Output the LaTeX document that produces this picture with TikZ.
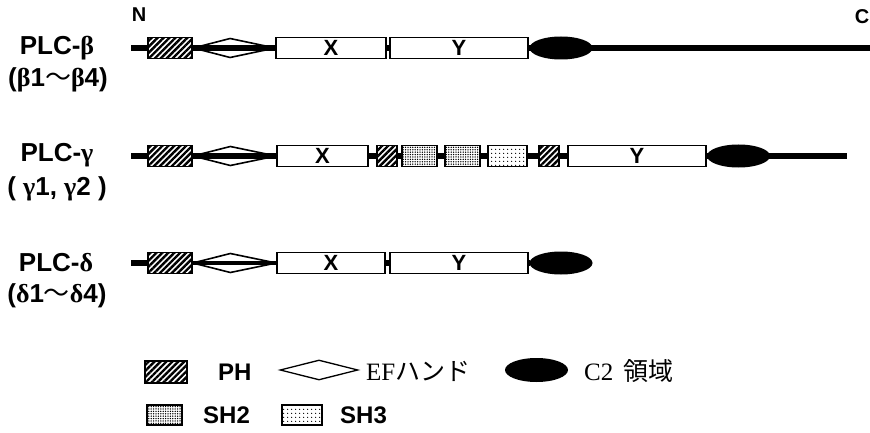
\documentclass[tikz,border=0pt]{standalone}
\usepackage{fontspec}
\setmainfont{Liberation Sans}
\newfontfamily\grk{Liberation Serif}
\newfontfamily\jp{Noto Sans CJK JP}
\usetikzlibrary{shapes.geometric,patterns.meta,calc}
\tikzset{
  backbone/.style={line width=5.5pt},
  dom/.style={draw, line width=1.7pt, fill=white, inner sep=0pt, minimum height=21pt,
    font=\bfseries\fontsize{22}{22}\selectfont},
  phdom/.style={draw, line width=1.7pt, inner sep=0pt, minimum height=21pt,
    preaction={fill=white}, pattern={Lines[angle=45,distance=4.2pt,line width=2.4pt]}},
  shtwo/.style={draw, line width=1.7pt, inner sep=0pt, minimum height=21pt,
    preaction={fill=white}, pattern={Dots[distance=2.4pt,radius=0.75pt]}},
  shthree/.style={draw, line width=1.7pt, inner sep=0pt, minimum height=21pt,
    preaction={fill=white}, pattern={Dots[distance=4pt,radius=0.75pt]}},
  c2dom/.style={ellipse, fill=black, inner sep=0pt, minimum width=63pt, minimum height=23pt},
  efout/.style={line width=1.6pt, line join=round},
  efin/.style={line width=3.2pt},
  plclab/.style={font=\bfseries\fontsize{26}{26}\selectfont, inner sep=0pt},
  endlab/.style={font=\bfseries\fontsize{20}{20}\selectfont, inner sep=0pt},
  leglab/.style={font=\bfseries\fontsize{24}{24}\selectfont, inner sep=0pt, anchor=west},
  legjp/.style={font=\fontsize{25}{25}\selectfont, inner sep=0pt, anchor=west},
}
\newcommand{\efhand}[3]{%
  \coordinate (#1-m) at ($(#2.east)!0.45!(#3.west)$);
  \draw[efout] (#2.east) -- ($(#1-m)+(0,-9.5)$) -- (#3.west) -- ($(#1-m)+(0,9.5)$) -- cycle;
  \draw[efin] (#2.east) -- (#3.west);
}
\begin{document}
\begin{tikzpicture}[x=1pt,y=-1pt]
\useasboundingbox (0,0) rectangle (870,433);

% ---------- PLC-beta ----------
\coordinate (b-start) at (131,48);
\coordinate (b-end) at (872,48);
\draw[backbone] (b-start) -- (b-end);
\node[phdom, minimum width=44pt] (b-ph) at (170,48) {};
\node[dom, minimum width=110pt] (b-x) at (331,48) {X};
\node[dom, minimum width=138pt] (b-y) at (459,48) {Y};
\node[c2dom] (b-c2) at (561,48) {};
\efhand{b-ef}{b-ph}{b-x}
\node[endlab] (n-lab) at (139,15) {N};
\node[endlab] (c-lab) at (862,17) {C};
\node[plclab] (b-lab) at (57,48) {PLC-{\grk β}};
\node[plclab] (b-sub) at (58,80) {({\grk β}1{\jp\mdseries ～}{\grk β}4)};

% ---------- PLC-gamma ----------
\coordinate (g-start) at (131,156);
\coordinate (g-end) at (847,156);
\draw[backbone] (g-start) -- (g-end);
\node[phdom, minimum width=44pt] (g-ph) at (170,156) {};
\node[dom, minimum width=91pt] (g-x) at (322.5,156) {X};
\node[phdom, minimum width=20pt] (g-ph2) at (387,156) {};
\node[shtwo, minimum width=35pt] (g-sh2a) at (419.5,156) {};
\node[shtwo, minimum width=35pt] (g-sh2b) at (462.5,156) {};
\node[shthree, minimum width=39pt] (g-sh3) at (507.5,156) {};
\node[phdom, minimum width=20pt] (g-ph3) at (549,156) {};
\node[dom, minimum width=138pt] (g-y) at (637,156) {Y};
\node[c2dom] (g-c2) at (738.5,156) {};
\efhand{g-ef}{g-ph}{g-x}
\node[plclab] (g-lab) at (57,155) {PLC-{\grk γ}};
\node[plclab] (g-sub) at (57,189) {( {\grk γ}1, {\grk γ}2 )};

% ---------- PLC-delta ----------
\coordinate (d-start) at (131,263);
\node[phdom, minimum width=44pt] (d-ph) at (170,263) {};
\node[dom, minimum width=108pt] (d-x) at (331,263) {X};
\node[dom, minimum width=138pt] (d-y) at (459,263) {Y};
\node[c2dom] (d-c2) at (561,263) {};
\draw[backbone] (d-start) -- (d-ph.west);
\draw[backbone] (d-x.east) -- (d-y.west);
\draw[backbone] (d-y.east) -- (d-c2.west);
\efhand{d-ef}{d-ph}{d-x}
\node[plclab] (d-lab) at (56,263) {PLC-{\grk δ}};
\node[plclab] (d-sub) at (57,296) {({\grk δ}1{\jp\mdseries ～}{\grk δ}4)};

% ---------- legend ----------
\node[phdom, minimum width=42pt, minimum height=22pt] (l-ph) at (166,372) {};
\node[leglab] (l-phlab) at (218,372) {PH};
\node[diamond, draw, line width=1.3pt, inner sep=0pt, minimum width=78pt, minimum height=20pt] (l-ef) at (319,370) {};
\node[legjp] (l-eflab) at (366,371) {{\grk EF}{\jp ハンド}};
\node[c2dom, minimum height=24pt] (l-c2) at (536.5,370) {};
\node[legjp] (l-c2lab) at (584,371) {{\grk C2}\hspace{10pt}{\jp 領域}};
\node[shtwo, minimum width=35pt, minimum height=20pt] (l-sh2) at (164.5,415) {};
\node[leglab] (l-sh2lab) at (203,415) {SH2};
\node[shthree, minimum width=40pt, minimum height=20pt] (l-sh3) at (302,415) {};
\node[leglab] (l-sh3lab) at (340,415) {SH3};
\end{tikzpicture}
\end{document}
